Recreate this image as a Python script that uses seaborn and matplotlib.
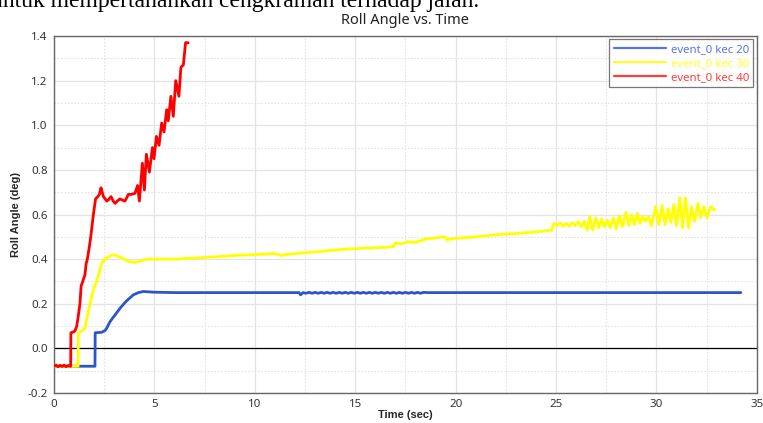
import numpy as np
import pandas as pd
import seaborn as sns
import matplotlib.pyplot as plt
from matplotlib.ticker import MultipleLocator

# datos (Roll Angle vs. Time)
t_40 = [0, 0.1, 0.2, 0.3, 0.4, 0.5, 0.6, 0.7, 0.8, 0.83, 0.84, 1.0, 1.05, 1.13, 1.2, 1.29, 1.35, 1.43,
        1.54, 1.6, 1.66, 1.75, 1.83, 1.96, 2.07, 2.18, 2.26, 2.34, 2.4, 2.46, 2.55, 2.62, 2.7, 2.84, 2.95,
        3.04, 3.15, 3.28, 3.4, 3.53, 3.62, 3.7, 3.85, 4.03, 4.16, 4.25, 4.4, 4.5, 4.6, 4.75, 4.9, 4.98,
        5.1, 5.23, 5.36, 5.48, 5.61, 5.69, 5.82, 5.94, 6.06, 6.22, 6.32, 6.44, 6.55, 6.68]
v_40 = [-0.08, -0.075, -0.082, -0.076, -0.081, -0.075, -0.082, -0.077, -0.08, -0.08, 0.07, 0.075, 0.08,
        0.1, 0.14, 0.2, 0.28, 0.3, 0.33, 0.38, 0.4, 0.45, 0.5, 0.6, 0.67, 0.68, 0.69, 0.72, 0.7, 0.68,
        0.67, 0.66, 0.665, 0.68, 0.66, 0.65, 0.66, 0.67, 0.665, 0.66, 0.675, 0.69, 0.69, 0.695, 0.73,
        0.66, 0.83, 0.71, 0.87, 0.79, 0.9, 0.85, 0.95, 0.91, 1.01, 0.97, 1.07, 1.02, 1.13, 1.04, 1.2,
        1.13, 1.26, 1.27, 1.37, 1.37]

t_30 = [0, 0.3, 0.6, 0.9, 1.2, 1.21, 1.4, 1.54, 1.65, 1.79, 1.95, 2.12, 2.25, 2.37, 2.5, 2.7, 2.95, 3.1,
        3.28, 3.5, 3.7, 4.03, 4.28, 4.6, 5.0, 5.5, 6.0, 7.0, 8.0, 9.26, 10.0, 11.0, 11.2, 11.33, 11.5,
        12.0, 13.0, 14.24, 15.0, 16.0, 16.9, 17.0, 17.3, 17.6, 18.0, 18.5, 19.0, 19.5, 19.6, 19.7, 20.0,
        21.0, 22.2, 23.0, 24.0, 24.77, 24.9, 25.05, 25.2, 25.35, 25.5, 25.65, 25.8, 25.95, 26.1, 26.25,
        26.4, 26.55, 26.68, 26.83, 26.98, 27.13, 27.27, 27.41, 27.55, 27.7, 27.85, 28.0, 28.15, 28.3,
        28.48, 28.62, 28.76, 28.9, 29.05, 29.18, 29.3, 29.45, 29.6, 29.75, 29.96, 30.12, 30.28, 30.43,
        30.58, 30.72, 30.86, 31.0, 31.16, 31.3, 31.44, 31.6, 31.74, 31.9, 32.07, 32.2, 32.35, 32.52,
        32.69, 32.9]
v_30 = [-0.08, -0.08, -0.08, -0.08, -0.08, 0.07, 0.08, 0.09, 0.14, 0.2, 0.26, 0.3, 0.34, 0.38, 0.4,
        0.41, 0.42, 0.415, 0.41, 0.4, 0.39, 0.385, 0.39, 0.4, 0.4, 0.4, 0.4, 0.405, 0.41, 0.418, 0.42,
        0.425, 0.42, 0.416, 0.42, 0.425, 0.432, 0.443, 0.447, 0.451, 0.455, 0.473, 0.468, 0.478, 0.475,
        0.49, 0.495, 0.5, 0.484, 0.49, 0.493, 0.5, 0.511, 0.515, 0.522, 0.53, 0.56, 0.55, 0.562, 0.548,
        0.56, 0.548, 0.565, 0.55, 0.568, 0.545, 0.57, 0.53, 0.59, 0.53, 0.585, 0.54, 0.58, 0.545, 0.575,
        0.54, 0.585, 0.535, 0.595, 0.545, 0.61, 0.55, 0.6, 0.555, 0.605, 0.56, 0.59, 0.57, 0.59, 0.55,
        0.635, 0.555, 0.64, 0.555, 0.625, 0.565, 0.645, 0.55, 0.675, 0.54, 0.675, 0.54, 0.635, 0.57,
        0.65, 0.585, 0.635, 0.585, 0.635, 0.62]

t_20 = [0, 1.0, 2.0, 2.04, 2.05, 2.37, 2.54, 2.62, 2.79, 3.04, 3.29, 3.58, 3.95, 4.2, 4.45, 4.94, 6.0,
        8.0, 10.0, 12.2, 12.28, 12.4, 12.55, 12.7, 12.85, 13.0, 13.15, 13.3, 13.45, 13.6, 13.75, 13.9,
        14.05, 14.2, 14.35, 14.5, 14.65, 14.8, 14.95, 15.1, 15.25, 15.4, 15.55, 15.7, 15.85, 16.0,
        16.15, 16.3, 16.45, 16.6, 16.75, 16.9, 17.05, 17.2, 17.35, 17.5, 17.65, 17.8, 17.95, 18.1,
        18.25, 18.4, 18.6, 20.0, 22.0, 25.0, 28.0, 31.0, 34.2]
v_20 = [-0.08, -0.08, -0.08, -0.08, 0.07, 0.072, 0.08, 0.09, 0.12, 0.15, 0.18, 0.21, 0.24, 0.25, 0.255,
        0.252, 0.25, 0.25, 0.25, 0.25, 0.24, 0.25, 0.247, 0.251, 0.247, 0.251, 0.247, 0.251, 0.247,
        0.251, 0.247, 0.251, 0.247, 0.251, 0.247, 0.251, 0.247, 0.251, 0.247, 0.251, 0.247, 0.251,
        0.247, 0.251, 0.247, 0.251, 0.247, 0.251, 0.247, 0.251, 0.247, 0.251, 0.247, 0.251, 0.247,
        0.251, 0.247, 0.251, 0.247, 0.251, 0.247, 0.251, 0.25, 0.25, 0.25, 0.25, 0.25, 0.25, 0.25]

series_names = ['event_0 kec 20', 'event_0 kec 30', 'event_0 kec 40']
series_colors = ['#2b55c8', '#ffff00', '#ff0000']
legend_colors = ['#5577d8', '#ffff22', '#ff3b3b']

df = pd.concat([
    pd.DataFrame({'Time': t_20, 'Roll': v_20, 'serie': series_names[0]}),
    pd.DataFrame({'Time': t_30, 'Roll': v_30, 'serie': series_names[1]}),
    pd.DataFrame({'Time': t_40, 'Roll': v_40, 'serie': series_names[2]}),
], ignore_index=True)

sns.set_style('white')
plt.rcParams['font.family'] = ['Noto Sans', 'DejaVu Sans']

fig = plt.figure(figsize=(7.63, 4.23), dpi=100)
ax = fig.add_axes([0.0708, 0.0709, 0.9212, 0.844])

# cuadricula mayor y menor
ax.xaxis.set_major_locator(MultipleLocator(5))
ax.xaxis.set_minor_locator(MultipleLocator(2.5))
ax.yaxis.set_major_locator(MultipleLocator(0.2))
ax.yaxis.set_minor_locator(MultipleLocator(0.1))
ax.grid(which='major', color='#e3e3e3', lw=0.9)
ax.grid(which='minor', color='#e3e3e3', lw=0.8, ls=(0, (1.5, 1.5)))
ax.set_axisbelow(True)
ax.axhline(0, color='black', lw=0.9, zorder=1)

sns.lineplot(data=df, x='Time', y='Roll', hue='serie', palette=dict(zip(series_names, series_colors)),
             sort=False, estimator=None, lw=2, ax=ax, zorder=3)

ax.set_xlim(0, 35)
ax.set_ylim(-0.2, 1.4)
ax.yaxis.set_major_formatter(plt.FormatStrFormatter('%.1f'))
ax.tick_params(which='major', direction='out', length=3, width=0.8, color='#666666',
               labelsize=8.3, labelcolor='#333333', pad=1.5)
ax.tick_params(which='minor', length=0)
ax.tick_params(axis='x', pad=1)
for s in ax.spines.values():
    s.set_color('#666666')
    s.set_linewidth(1.0)

ax.set_xlabel('Time (sec)', fontsize=8, fontweight='bold', family='Liberation Sans', labelpad=0)
ax.set_ylabel('Roll Angle (deg)', fontsize=8, fontweight='bold', family='Liberation Sans', labelpad=5)
ax.set_title('Roll Angle vs. Time', fontsize=10.5, color='#222222', pad=8.5)

leg = ax.legend(loc='upper right', fontsize=8.2, frameon=True, fancybox=False, handlelength=4.6,
                borderaxespad=0.3, handletextpad=0.4, labelspacing=0.25, borderpad=0.4)
leg.get_frame().set_edgecolor('#555555')
leg.get_frame().set_linewidth(0.9)
for h, txt, c in zip(leg.get_lines(), leg.get_texts(), legend_colors):
    h.set_color(c)
    h.set_linewidth(1.6)
    txt.set_color(c)

# linea de texto del documento cortada arriba
fig.text(-0.012, 1 - 7.5 / 423, 'untuk mempertahankan cengkraman terhadap jalan.', family='Liberation Serif',
         fontsize=17, va='baseline', ha='left', color='black')

fig.savefig('out.png', dpi=100)
